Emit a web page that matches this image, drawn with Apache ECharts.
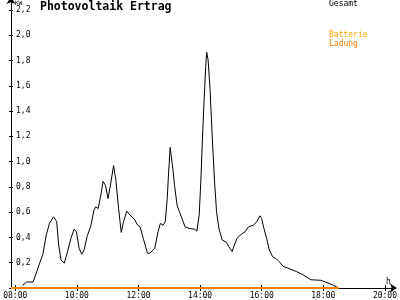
<!DOCTYPE html>
<html><head><meta charset="utf-8">
<script src="https://cdn.jsdelivr.net/npm/echarts@6/dist/echarts.min.js"></script>
<style>html,body{margin:0;padding:0;background:#fff}#c{width:400px;height:300px}</style>
</head><body><div id="c"></div>
<script>
// Time in hours, Gesamt values in kW
const gesamtHours = [8.237,8.365,8.577,8.663,8.791,8.897,9.006,9.111,9.240,9.272,9.345,9.409,9.486,9.592,9.698,9.807,9.912,9.986,10.072,10.159,10.233,10.338,10.447,10.553,10.607,10.691,10.767,10.851,10.928,11.011,11.088,11.193,11.225,11.267,11.354,11.440,11.514,11.620,11.728,11.866,11.972,12.049,12.155,12.292,12.369,12.529,12.635,12.709,12.795,12.869,12.933,12.978,13.029,13.061,13.116,13.170,13.253,13.330,13.413,13.509,13.650,13.810,13.894,13.970,14.022,14.076,14.131,14.182,14.214,14.259,14.323,14.397,14.470,14.534,14.611,14.717,14.855,14.932,15.038,15.112,15.198,15.303,15.464,15.573,15.733,15.838,15.944,15.998,16.072,16.159,16.245,16.351,16.479,16.584,16.693,16.853,17.119,17.334,17.600,17.920,18.240,18.505];
const gesamtValues = [0.021,0.047,0.047,0.105,0.196,0.267,0.419,0.511,0.563,0.571,0.526,0.340,0.222,0.196,0.288,0.393,0.466,0.445,0.314,0.267,0.301,0.414,0.485,0.615,0.642,0.629,0.721,0.843,0.812,0.707,0.812,0.969,0.969,0.851,0.629,0.440,0.524,0.607,0.576,0.545,0.497,0.485,0.393,0.275,0.275,0.314,0.446,0.511,0.497,0.524,0.707,0.917,1.113,1.047,0.943,0.812,0.655,0.603,0.550,0.485,0.471,0.466,0.450,0.576,0.838,1.179,1.493,1.755,1.865,1.807,1.571,1.179,0.838,0.603,0.471,0.380,0.361,0.328,0.288,0.340,0.393,0.419,0.446,0.485,0.497,0.524,0.571,0.550,0.471,0.393,0.301,0.249,0.230,0.204,0.171,0.157,0.131,0.106,0.065,0.061,0.031,0];
const ladungHours = [7.862, 18.505];
const ladungValues = [0, 0];
const xTickHours = [8,10,12,14,16,18,20];
const yTickValues = [0,0.2,0.4,0.6,0.8,1.0,1.2,1.4,1.6,1.8,2.0,2.2];
const yLabelValues = [0.2,0.4,0.6,0.8,1.0,1.2,1.4,1.6,1.8,2.0,2.2];
const legendNames = ['Gesamt','Batterie','Ladung'];
const legendColors = ['#000000','#ffa500','#ff8000'];
const titleText = 'Photovoltaik Ertrag';

const X_MIN = 7.862, X_MAX = 20.258, Y_MAX = 2.271;
const mono = '"DejaVu Sans Mono", monospace';
const pad = n => (n < 10 ? '0' : '') + n;

const chart = echarts.init(document.getElementById('c'), null, {renderer:'canvas'});
const axisBase = {
  type:'value', min:X_MIN, max:X_MAX, splitLine:{show:false}
};
chart.setOption({
  animation:false,
  backgroundColor:'#ffffff',
  grid:{left:11, right:2, top:1, bottom:10},
  xAxis:[
    Object.assign({}, axisBase, {
      axisLine:{show:true, lineStyle:{color:'#000', width:1}, symbol:['none','arrow'], symbolSize:[7,7], symbolOffset:[0,4]},
      axisTick:{show:true, length:3, lineStyle:{color:'#000'}, customValues:xTickHours},
      axisLabel:{show:true, customValues:xTickHours, margin:4, fontFamily:mono, fontSize:8, color:'#000',
        alignMinLabel:'center', alignMaxLabel:'center',
        formatter:v => pad(Math.round(v)) + ':00'}
    }),
    Object.assign({}, axisBase, {
      position:'bottom',
      axisLine:{show:false},
      axisTick:{show:true, inside:true, length:3, lineStyle:{color:'#000'}, customValues:xTickHours},
      axisLabel:{show:false}
    })
  ],
  yAxis:[
    {type:'value', min:0, max:Y_MAX, splitLine:{show:false},
      axisLine:{show:true, lineStyle:{color:'#000', width:1}, symbol:['none','arrow'], symbolSize:[7,7], symbolOffset:[0,4]},
      axisTick:{show:true, length:2, lineStyle:{color:'#000'}, customValues:yTickValues},
      axisLabel:{show:true, inside:true, margin:5, customValues:yLabelValues, fontFamily:mono, fontSize:8, color:'#000',
        formatter:v => v.toFixed(1).replace('.', ',')}
    },
    {type:'value', min:0, max:Y_MAX, position:'left', splitLine:{show:false},
      axisLine:{show:false},
      axisTick:{show:true, inside:true, length:2, lineStyle:{color:'#000'}, customValues:yTickValues},
      axisLabel:{show:false}
    }
  ],
  series:[
    {name:legendNames[0], type:'line', xAxisIndex:0, yAxisIndex:0, showSymbol:false, symbol:'none',
      lineStyle:{color:legendColors[0], width:1}, data:gesamtHours.map((h,i)=>[h, gesamtValues[i]]), z:3},
    {name:legendNames[2], type:'line', xAxisIndex:0, yAxisIndex:0, showSymbol:false, symbol:'none',
      lineStyle:{color:legendColors[2], width:2}, data:ladungHours.map((h,i)=>[h, ladungValues[i]]), z:4}
  ],
  graphic:[
    {type:'text', left:40, top:1, style:{text:titleText, font:'bold 11.5px ' + mono, fill:'#000'}},
    {type:'text', left:15, top:0, style:{text:'KW', font:'6px ' + mono, fill:'#000'}},
    {type:'text', left:386, top:278, style:{text:'h', font:'8px ' + mono, fill:'#000'}},
    {type:'text', left:329, top:0, style:{text:legendNames[0], font:'8px ' + mono, fill:legendColors[0]}},
    {type:'text', left:329, top:31, style:{text:legendNames[1], font:'8px ' + mono, fill:legendColors[1]}},
    {type:'text', left:329, top:40, style:{text:legendNames[2], font:'8px ' + mono, fill:legendColors[2]}}
  ]
});
</script></body></html>
